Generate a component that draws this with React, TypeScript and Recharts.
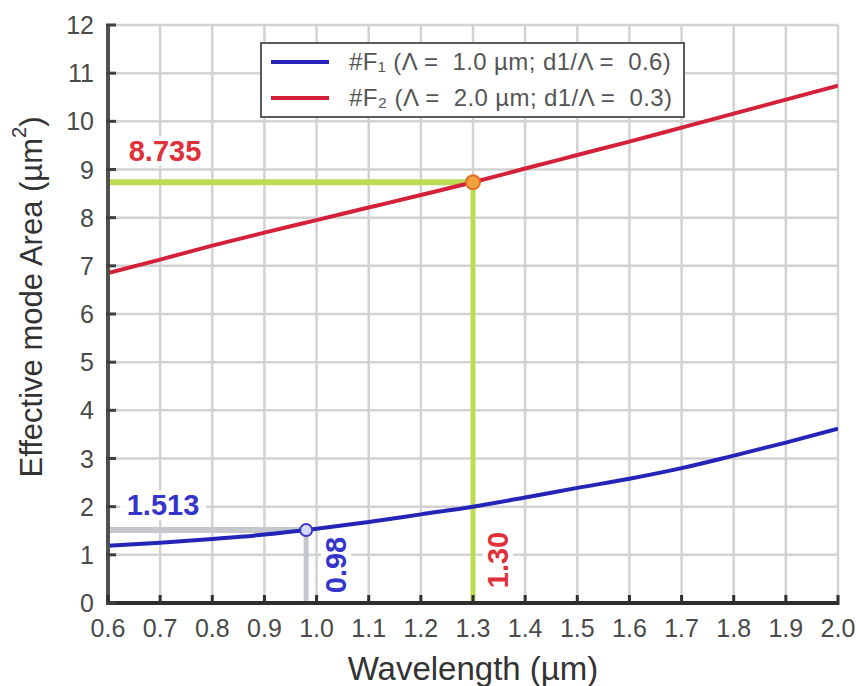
import React from "react";
import {
  LineChart,
  Line,
  XAxis,
  YAxis,
  CartesianGrid,
  ReferenceLine,
  ReferenceDot,
  Legend,
} from "recharts";

// wavelength (µm) and effective mode area (µm²)
const wavelength = [0.6, 0.7, 0.8, 0.9, 1.0, 1.1, 1.2, 1.3, 1.4, 1.5, 1.6, 1.7, 1.8, 1.9, 2.0];
const areaF1 = [1.19, 1.25, 1.33, 1.42, 1.54, 1.68, 1.84, 2.0, 2.19, 2.39, 2.58, 2.8, 3.06, 3.33, 3.62];
const areaF2 = [6.85, 7.13, 7.42, 7.69, 7.95, 8.21, 8.47, 8.735, 9.02, 9.3, 9.58, 9.87, 10.16, 10.45, 10.74];

const xTicks = [0.6, 0.7, 0.8, 0.9, 1.0, 1.1, 1.2, 1.3, 1.4, 1.5, 1.6, 1.7, 1.8, 1.9, 2.0];
const yTicks = [0, 1, 2, 3, 4, 5, 6, 7, 8, 9, 10, 11, 12];

const seriesNames = [
  "#F\u2081 (\u039b =  1.0 \u00b5m; d1/\u039b =  0.6)",
  "#F\u2082 (\u039b =  2.0 \u00b5m; d1/\u039b =  0.3)",
];

// marked points
const markF1 = { x: 0.98, y: 1.513 };
const markF2 = { x: 1.3, y: 8.735 };

const rows = wavelength.map((w, i) => ({ w, f1: areaF1[i], f2: areaF2[i] }));

const FONT = "'Liberation Sans', Arial, sans-serif";
const BLUE = "#2424b8";
const RED = "#d42038";
const GREEN = "#bcdd52";
const GREY_GUIDE = "#c4c7cc";
const TICK_TEXT = "#4a4a4a";

const BottomTick = (props: any) => {
  const { x, y, payload } = props;
  return (
    <g>
      <line x1={x} x2={x} y1={y} y2={y - 10} stroke="#303030" strokeWidth={3} />
      <text x={x} y={y + 32} textAnchor="middle" fontSize={25} fill={TICK_TEXT} fontFamily={FONT}>
        {Number(payload.value).toFixed(1)}
      </text>
    </g>
  );
};

const TopTick = (props: any) => {
  const { x, y } = props;
  return <line x1={x} x2={x} y1={y} y2={y + 10} stroke="#505050" strokeWidth={3} />;
};

const LeftTick = (props: any) => {
  const { x, y, payload } = props;
  return (
    <g>
      <line x1={x} x2={x + 10} y1={y} y2={y} stroke="#404040" strokeWidth={3} />
      <text x={x - 12} y={y + 9} textAnchor="end" fontSize={25} fill={TICK_TEXT} fontFamily={FONT}>
        {payload.value}
      </text>
    </g>
  );
};

const RightTick = (props: any) => {
  const { x, y } = props;
  return <line x1={x} x2={x - 10} y1={y} y2={y} stroke="#404040" strokeWidth={3} />;
};

const XTitle = (props: any) => {
  const { viewBox } = props;
  return (
    <text
      x={viewBox.x + viewBox.width / 2}
      y={viewBox.y + 77}
      textAnchor="middle"
      fontSize={33}
      fill="#333"
      fontFamily={FONT}
    >
      Wavelength (µm)
    </text>
  );
};

const YTitle = (props: any) => {
  const { viewBox } = props;
  const cx = 31;
  const cy = viewBox.y + 272;
  return (
    <text
      x={cx}
      y={cy}
      transform={`rotate(-90, ${cx}, ${cy})`}
      textAnchor="middle"
      dominantBaseline="central"
      fontSize={31}
      fill="#333"
      fontFamily={FONT}
    >
      Effective mode Area (µm
      <tspan dy={-12} fontSize={20}>2</tspan>
      <tspan dy={12}>)</tspan>
    </text>
  );
};

// value tag with white backing, placed relative to a reference point
const Tag = ({ viewBox, text, dx, dy, color, vertical }: any) => {
  const cx = viewBox.x + viewBox.width / 2 + dx;
  const cy = viewBox.y + viewBox.height / 2 + dy;
  const w = text.length * 16 + 6;
  const h = 30;
  return (
    <g transform={vertical ? `rotate(-90, ${cx}, ${cy})` : undefined}>
      <rect x={cx - w / 2} y={cy - h / 2} width={w} height={h} fill="#fff" fillOpacity={0.9} />
      <text
        x={cx}
        y={cy}
        textAnchor="middle"
        dominantBaseline="central"
        fontSize={29}
        fontWeight="bold"
        fill={color}
        fontFamily={FONT}
      >
        {text}
      </text>
    </g>
  );
};

const LegendBox = (props: any) => {
  const { payload } = props;
  return (
    <div
      style={{
        width: 425,
        height: 76,
        border: "2px solid #5a5a5a",
        background: "#fff",
        boxSizing: "border-box",
        paddingLeft: 9,
        fontFamily: FONT,
      }}
    >
      {(payload || []).map((p: any) => (
        <div key={p.value} style={{ display: "flex", alignItems: "center", height: 36 }}>
          <span style={{ display: "inline-block", width: 58, height: 4, background: p.color, marginRight: 20 }} />
          <span style={{ fontSize: 24, letterSpacing: 0.4, color: "#555", whiteSpace: "pre" }}>{p.value}</span>
        </div>
      ))}
    </div>
  );
};

export default function App() {
  return (
    <div style={{ position: "absolute", left: 0, top: 0, width: 856, height: 686, background: "#fff" }}>
      <LineChart width={856} height={686} data={rows} margin={{ top: 25, right: 18, bottom: 0, left: 0 }}>
        <CartesianGrid stroke="#d2d2d2" strokeWidth={2.5} />
        <XAxis
          dataKey="w"
          type="number"
          domain={[0.6, 2]}
          ticks={xTicks}
          interval={0}
          height={83}
          tickSize={0}
          tickLine={false}
          axisLine={{ stroke: "#2e2e2e", strokeWidth: 4 }}
          tick={<BottomTick />}
          label={{ content: XTitle }}
          allowDataOverflow
        />
        <XAxis
          xAxisId="top"
          orientation="top"
          type="number"
          domain={[0.6, 2]}
          ticks={xTicks}
          interval={0}
          height={0}
          tickSize={0}
          tickLine={false}
          axisLine={{ stroke: "#6a6a6a", strokeWidth: 3 }}
          tick={<TopTick />}
          allowDataOverflow
        />
        <YAxis
          type="number"
          domain={[0, 12]}
          ticks={yTicks}
          interval={0}
          width={108}
          tickSize={0}
          tickLine={false}
          axisLine={{ stroke: "#505050", strokeWidth: 4 }}
          tick={<LeftTick />}
          label={{ content: YTitle }}
          allowDataOverflow
        />
        <YAxis
          yAxisId="right"
          orientation="right"
          type="number"
          domain={[0, 12]}
          ticks={yTicks}
          interval={0}
          width={0}
          tickSize={0}
          tickLine={false}
          axisLine={{ stroke: "#999", strokeWidth: 4 }}
          tick={<RightTick />}
          allowDataOverflow
        />

        {/* guide lines to the marked points */}
        <ReferenceLine segment={[{ x: 0.6, y: markF2.y }, { x: markF2.x, y: markF2.y }]} stroke={GREEN} strokeWidth={6} />
        <ReferenceLine segment={[{ x: markF2.x, y: 0 }, { x: markF2.x, y: markF2.y }]} stroke={GREEN} strokeWidth={5} />
        <ReferenceLine segment={[{ x: 0.6, y: markF1.y }, { x: markF1.x, y: markF1.y }]} stroke={GREY_GUIDE} strokeWidth={6} />
        <ReferenceLine segment={[{ x: markF1.x, y: 0 }, { x: markF1.x, y: markF1.y }]} stroke={GREY_GUIDE} strokeWidth={5} />

        <Line
          type="monotone"
          dataKey="f1"
          name={seriesNames[0]}
          stroke={BLUE}
          strokeWidth={4}
          dot={false}
          isAnimationActive={false}
        />
        <Line
          type="monotone"
          dataKey="f2"
          name={seriesNames[1]}
          stroke={RED}
          strokeWidth={4}
          dot={false}
          isAnimationActive={false}
        />

        <ReferenceDot x={markF1.x} y={markF1.y} r={6} fill="#d8d8ff" stroke="#3a3ac8" strokeWidth={2} />
        <ReferenceDot x={markF2.x} y={markF2.y} r={7} fill="#f2a23c" stroke="#e0702a" strokeWidth={2} />

        {/* value tags */}
        <ReferenceDot x={0.6} y={markF2.y} r={0} stroke="none"
          label={(p: any) => <Tag {...p} text={String(markF2.y)} dx={57} dy={-31} color="#e0303a" />} />
        <ReferenceDot x={0.6} y={markF1.y} r={0} stroke="none"
          label={(p: any) => <Tag {...p} text={String(markF1.y)} dx={55} dy={-25} color="#3535cc" />} />
        <ReferenceDot x={markF1.x} y={0} r={0} stroke="none"
          label={(p: any) => <Tag {...p} text={markF1.x.toFixed(2)} dx={30} dy={-38} color="#3535cc" vertical />} />
        <ReferenceDot x={markF2.x} y={0} r={0} stroke="none"
          label={(p: any) => <Tag {...p} text={markF2.x.toFixed(2)} dx={25} dy={-43} color="#e0303a" vertical />} />

        <Legend
          layout="vertical"
          align="center"
          verticalAlign="middle"
          content={<LegendBox />}
          wrapperStyle={{ left: 260, top: 42, width: 425, height: 76 }}
        />
      </LineChart>
    </div>
  );
}
